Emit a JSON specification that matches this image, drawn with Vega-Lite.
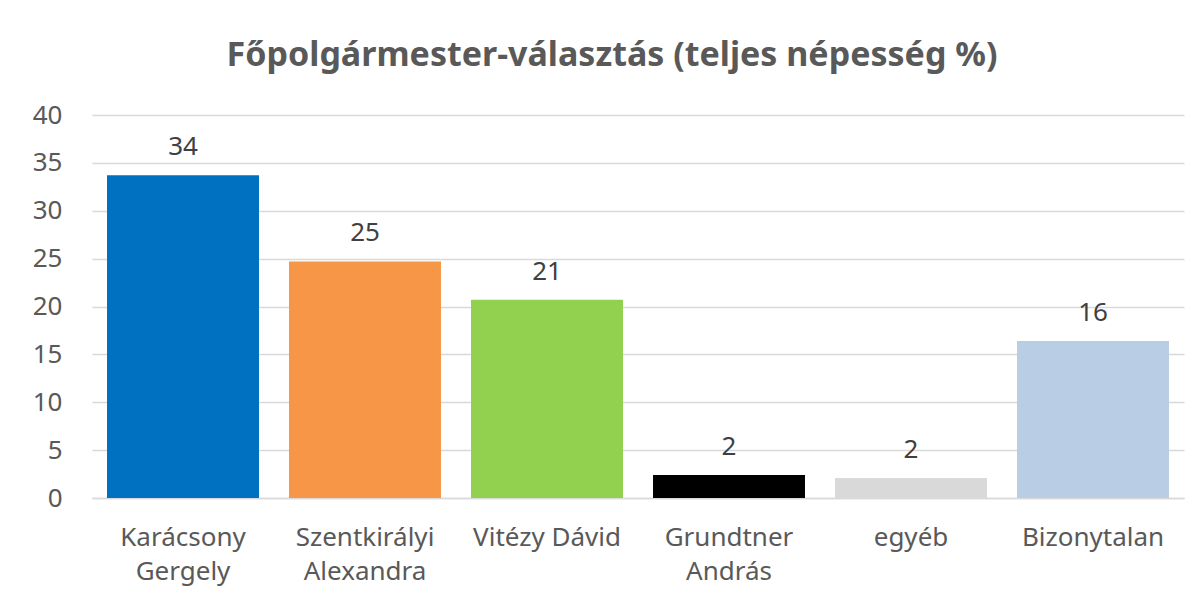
{
  "$schema": "https://vega.github.io/schema/vega-lite/v6.json",
  "autosize": "none",
  "width": 1092,
  "height": 383,
  "padding": {"left": 92, "top": 115, "right": 16, "bottom": 106},
  "background": "white",
  "title": {
    "text": "Főpolgármester-választás (teljes népesség %)",
    "font": "Noto Sans",
    "fontSize": 34,
    "fontWeight": "bold",
    "color": "#595959",
    "anchor": "middle",
    "dx": -26,
    "offset": 29
  },
  "data": {
    "values": [
      {"jelolt": "Karácsony|Gergely", "ertek": 33.7},
      {"jelolt": "Szentkirályi|Alexandra", "ertek": 24.7},
      {"jelolt": "Vitézy Dávid", "ertek": 20.7},
      {"jelolt": "Grundtner|András", "ertek": 2.4},
      {"jelolt": "egyéb", "ertek": 2.1},
      {"jelolt": "Bizonytalan", "ertek": 16.4}
    ]
  },
  "encoding": {
    "x": {
      "field": "jelolt",
      "type": "nominal",
      "sort": null,
      "scale": {"paddingInner": 0.165, "paddingOuter": 0.0825},
      "axis": {
        "title": null,
        "labelExpr": "split(datum.label, '|')",
        "labelAngle": 0,
        "labelFont": "Noto Sans",
        "labelFontSize": 26,
        "labelColor": "#595959",
        "labelLineHeight": 34,
        "labelPadding": 26,
        "ticks": false,
        "domain": true,
        "domainColor": "#D9D9D9",
        "domainWidth": 1.5
      }
    },
    "y": {
      "field": "ertek",
      "type": "quantitative",
      "scale": {"domain": [0, 40]},
      "axis": {
        "title": null,
        "values": [0, 5, 10, 15, 20, 25, 30, 35, 40],
        "labelFont": "Noto Sans",
        "labelFontSize": 26,
        "labelColor": "#595959",
        "labelPadding": 30,
        "ticks": false,
        "domain": false,
        "gridColor": "#D9D9D9",
        "gridWidth": 1.5
      }
    }
  },
  "layer": [
    {
      "mark": {"type": "bar"},
      "encoding": {
        "color": {
          "field": "jelolt",
          "type": "nominal",
          "scale": {
            "domain": ["Karácsony|Gergely", "Szentkirályi|Alexandra", "Vitézy Dávid", "Grundtner|András", "egyéb", "Bizonytalan"],
            "range": ["#0070C0", "#F79646", "#92D050", "#000000", "#D9D9D9", "#B9CDE5"]
          },
          "legend": null
        }
      }
    },
    {
      "mark": {"type": "text", "baseline": "alphabetic", "dy": -20, "font": "Noto Sans", "fontSize": 26, "color": "#404040"},
      "encoding": {
        "text": {"field": "ertek", "type": "quantitative", "format": ".0f"}
      }
    }
  ],
  "config": {"view": {"stroke": null}}
}
